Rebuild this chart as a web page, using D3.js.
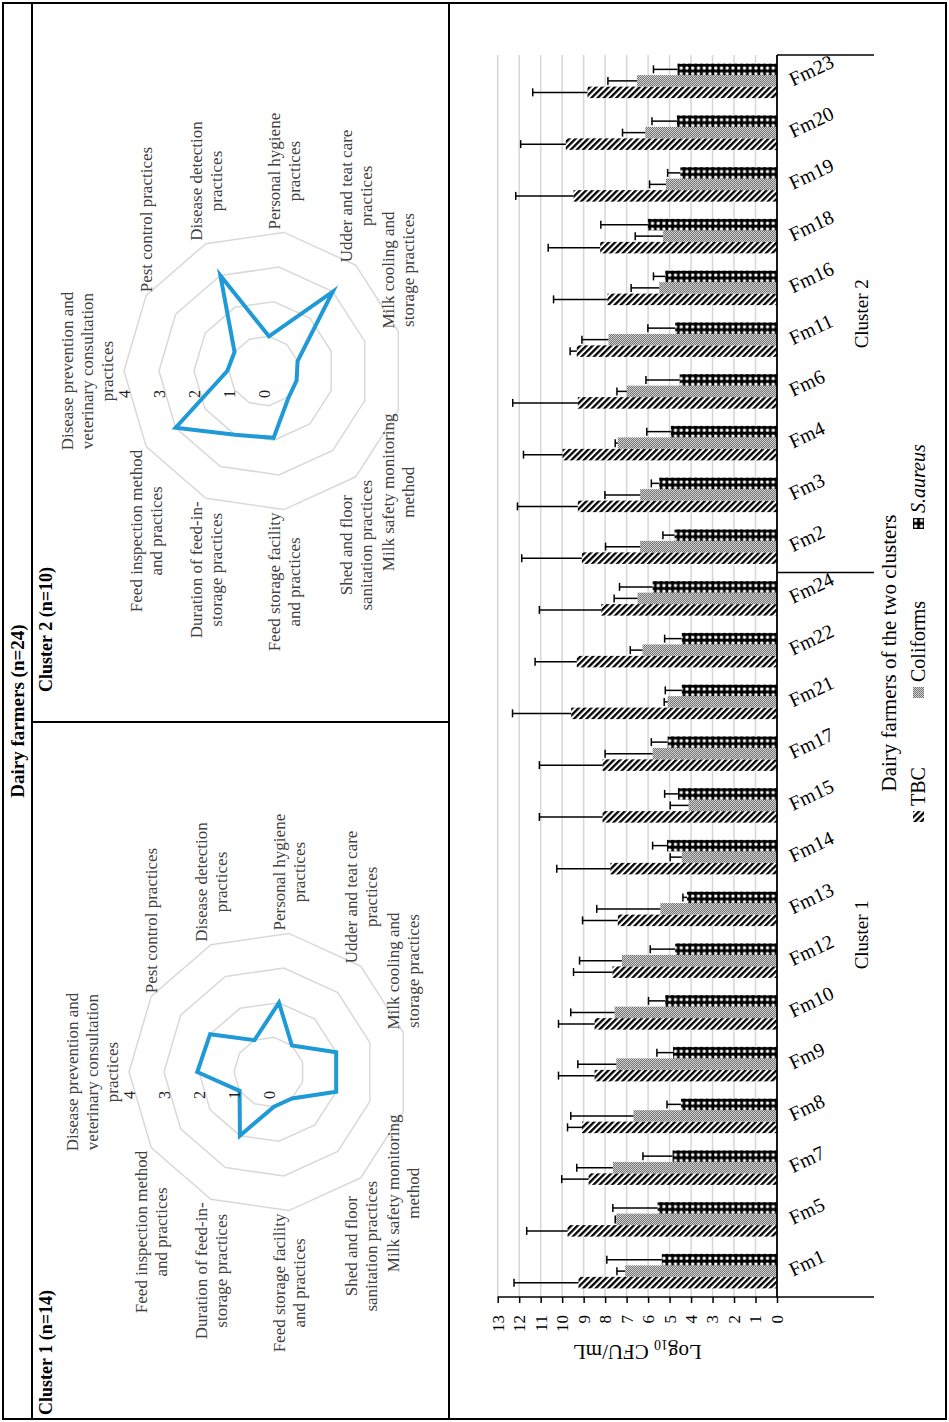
<!DOCTYPE html>
<html>
<head>
<meta charset="utf-8">
<script src="https://cdn.jsdelivr.net/npm/d3@7"></script>
<style>
  html, body { margin: 0; padding: 0; background: #fff; }
  svg { display: block; }
  text { font-family: "Liberation Serif", "Times New Roman", serif; }
</style>
</head>
<body>
<svg id="fig" width="949" height="1422"></svg>
<script>
// ---- Practice scores (radar charts) ----
const practiceLabels = [
  ["Disease prevention and", "veterinary consultation", "practices"],
  ["Pest control practices"],
  ["Disease detection", "practices"],
  ["Personal hygiene", "practices"],
  ["Udder and teat care", "practices"],
  ["Milk cooling and", "storage practices"],
  ["Milk safety monitoring", "method"],
  ["Shed and floor", "sanitation practices"],
  ["Feed storage facility", "and practices"],
  ["Duration of feed-in-", "storage practices"],
  ["Feed inspection method", "and practices"]
];
const cluster1Scores = [2.05, 2.0, 1.0, 2.0, 1.0, 2.0, 2.0, 1.0, 1.0, 2.0, 1.0];
const cluster2Scores = [1.05, 1.0, 3.0, 1.0, 3.0, 1.0, 0.97, 1.05, 1.93, 2.0, 3.0];
const radarTicks = [0, 1, 2, 3, 4];

// ---- Microbial counts (bar chart) ----
const farms = ["Fm1", "Fm5", "Fm7", "Fm8", "Fm9", "Fm10", "Fm12", "Fm13", "Fm14", "Fm15", "Fm17", "Fm21", "Fm22", "Fm24",
               "Fm2", "Fm3", "Fm4", "Fm6", "Fm11", "Fm16", "Fm18", "Fm19", "Fm20", "Fm23"];
const clusterNames = ["Cluster 1", "Cluster 2"];
const clusterSizes = [14, 10];
const seriesNames = ["TBC", "Coliforms", "S.aureus"];
const tbcMean  = [9.24, 9.75, 8.77, 9.08, 8.49, 8.49, 7.66, 7.41, 7.76, 8.12, 8.12, 9.58, 9.32, 8.18,
                  9.08, 9.27, 9.98, 9.27, 9.32, 7.89, 8.23, 9.47, 9.83, 8.82];
const tbcSD    = [3.00, 1.90, 1.25, 0.67, 1.68, 1.68, 1.81, 1.64, 2.49, 2.94, 2.94, 2.73, 1.94, 2.88,
                  2.80, 2.81, 1.82, 3.03, 0.31, 2.51, 2.42, 2.69, 2.10, 2.55];
const coliMean = [7.07, 7.48, 7.64, 6.68, 7.48, 7.56, 7.22, 5.43, 4.43, 4.11, 5.79, 5.09, 6.26, 6.49,
                  6.37, 6.37, 7.41, 6.99, 7.84, 5.48, 5.31, 5.17, 6.13, 6.52];
const coliSD   = [0.38, 0.05, 1.68, 2.92, 1.79, 2.04, 1.97, 2.96, 0.54, 0.86, 2.21, 0.16, 0.57, 1.09,
                  1.61, 1.64, 0.12, 0.46, 1.24, 1.31, 1.29, 0.76, 1.06, 1.35];
const saurMean = [5.36, 5.56, 4.86, 4.47, 4.84, 5.20, 4.74, 4.19, 5.12, 4.61, 5.09, 4.43, 4.43, 5.79,
                  4.77, 5.48, 4.94, 4.53, 4.74, 5.20, 6.01, 4.50, 4.66, 4.63];
const saurSD   = [2.56, 2.08, 1.38, 0.65, 0.75, 0.78, 1.16, 0.19, 0.67, 0.62, 0.76, 0.77, 0.80, 1.54,
                  0.54, 0.37, 1.12, 1.57, 1.27, 0.55, 2.19, 0.59, 1.16, 1.12];
const valueTicks = [0, 1, 2, 3, 4, 5, 6, 7, 8, 9, 10, 11, 12, 13];

// ---- Page set-up: the figure is laid out landscape and turned a quarter turn ----
const W = 1422, H = 949;
const svg = d3.select("#fig");
const defs = svg.append("defs");
const g = svg.append("g").attr("transform", `translate(0,${W}) rotate(-90)`);

// Fill patterns for the three count series
const pTbc = defs.append("pattern").attr("id", "pat-tbc").attr("patternUnits", "userSpaceOnUse")
  .attr("width", 4.4).attr("height", 4.4).attr("patternTransform", "rotate(45)");
pTbc.append("rect").attr("width", 4.4).attr("height", 4.4).attr("fill", "#fff");
pTbc.append("rect").attr("width", 4.4).attr("height", 2.3).attr("fill", "#000");

const pCol = defs.append("pattern").attr("id", "pat-col").attr("patternUnits", "userSpaceOnUse")
  .attr("width", 2).attr("height", 2);
pCol.append("rect").attr("width", 2).attr("height", 2).attr("fill", "#d2d2d2");
pCol.append("rect").attr("width", 1).attr("height", 1).attr("fill", "#6e6e6e");
pCol.append("rect").attr("x", 1).attr("y", 1).attr("width", 1).attr("height", 1).attr("fill", "#7a7a7a");

const pSa = defs.append("pattern").attr("id", "pat-sa").attr("patternUnits", "userSpaceOnUse")
  .attr("width", 5.75).attr("height", 5.75);
pSa.append("rect").attr("width", 5.75).attr("height", 5.75).attr("fill", "#000");
pSa.append("rect").attr("x", 1.2).attr("y", 1.2).attr("width", 3).attr("height", 3).attr("rx", 0.8).attr("fill", "#fff");

const seriesFill = {"TBC": "url(#pat-tbc)", "Coliforms": "url(#pat-col)", "S.aureus": "url(#pat-sa)"};

// ---- Table frame ----
const frame = [
  [3, 3, 1419, 3], [3, 946, 1419, 946], [3, 3, 3, 946], [1419, 3, 1419, 946],
  [3, 32, 1419, 32], [3, 449, 1419, 449], [700, 32, 700, 449]
];
g.append("g").selectAll("line").data(frame).join("line")
  .attr("x1", d => d[0]).attr("y1", d => d[1]).attr("x2", d => d[2]).attr("y2", d => d[3])
  .attr("stroke", "#000").attr("stroke-width", 2).attr("stroke-linecap", "square");

g.append("text").attr("x", 711).attr("y", 24).attr("text-anchor", "middle")
  .attr("font-size", 19).attr("font-weight", "bold").text("Dairy farmers (n=24)");
g.append("text").attr("x", 7).attr("y", 52).attr("font-size", 18).attr("font-weight", "bold")
  .text(`${clusterNames[0]} (n=${clusterSizes[0]})`);
g.append("text").attr("x", 730).attr("y", 52).attr("font-size", 18).attr("font-weight", "bold")
  .text(`${clusterNames[1]} (n=${clusterSizes[1]})`);

// ---- Radar charts ----
function drawRadar(cx, cy, scores) {
  const n = practiceLabels.length;
  const r = d3.scaleLinear().domain([0, 4]).range([0, 140]);
  const ang = d3.scaleLinear().domain([0, n]).range([0, 2 * Math.PI]);
  const pt = (i, v) => [cx + r(v) * Math.sin(ang(i)), cy - r(v) * Math.cos(ang(i))];
  const rg = g.append("g");

  // concentric grid rings
  rg.selectAll("path.ring").data(radarTicks.filter(t => t > 0)).join("path")
    .attr("class", "ring")
    .attr("d", t => d3.line().curve(d3.curveLinearClosed)(d3.range(n).map(i => pt(i, t))))
    .attr("fill", "none").attr("stroke", "#d9d9d9").attr("stroke-width", 1.5);

  // score outline
  rg.append("path")
    .attr("d", d3.line().curve(d3.curveLinearClosed)(scores.map((v, i) => pt(i, v))))
    .attr("fill", "none").attr("stroke", "#1f9ad6").attr("stroke-width", 4)
    .attr("stroke-linejoin", "miter").attr("stroke-miterlimit", 6);

  // scale labels along the first spoke
  rg.selectAll("text.tick").data(radarTicks).join("text")
    .attr("class", "tick")
    .attr("x", cx - 19).attr("y", t => cy - r(t)).attr("dy", "0.35em")
    .attr("text-anchor", "end").attr("font-size", 16).attr("fill", "#222")
    .text(t => t);

  // practice names around the rim
  const lh = 20;
  practiceLabels.forEach((lines, i) => {
    const [vx, vy] = pt(i, 4);
    const s = Math.sin(ang(i));
    const tg = rg.append("g");
    const texts = lines.map(l => tg.append("text").attr("font-size", 17).attr("fill", "#404040")
      .attr("text-anchor", "middle").text(l));
    const maxW = d3.max(texts, t => t.node().getComputedTextLength());
    let bx, baseY;
    if (Math.abs(s) < 1e-6) {
      bx = vx;
      baseY = k => vy - 11 - (lines.length - 1 - k) * lh;
    } else {
      bx = vx + Math.sign(s) * (3 + maxW / 2);
      baseY = k => vy - (lines.length - 1) * lh / 2 + k * lh + 6;
    }
    texts.forEach((t, k) => t.attr("x", bx).attr("y", baseY(k)));
  });
}
drawRadar(350, 269, cluster1Scores);
drawRadar(1051, 264, cluster2Scores);

// ---- Bar chart of log counts ----
const x0 = d3.scaleBand().domain(farms).range([125, 1367]).paddingInner(0).paddingOuter(0);
const x1 = d3.scaleBand().domain(seriesNames).range([0, x0.bandwidth()]).paddingInner(0).paddingOuter(0.75);
const y = d3.scaleLinear().domain([0, 13]).range([777, 497.7]);
const yBase = y(0), labelBottom = 874;

const means = {"TBC": tbcMean, "Coliforms": coliMean, "S.aureus": saurMean};
const sds = {"TBC": tbcSD, "Coliforms": coliSD, "S.aureus": saurSD};
const rows = farms.flatMap((f, i) => seriesNames.map(s => ({farm: f, series: s, mean: means[s][i], sd: sds[s][i]})));

const bc = g.append("g");

// gridlines
bc.append("g").selectAll("line").data(valueTicks.filter(v => v > 0)).join("line")
  .attr("x1", x0.range()[0]).attr("x2", x0.range()[1])
  .attr("y1", d => y(d)).attr("y2", d => y(d))
  .attr("stroke", "#d6d6d6").attr("stroke-width", 1.5);

// bars
bc.append("g").selectAll("rect").data(rows).join("rect")
  .attr("x", d => x0(d.farm) + x1(d.series))
  .attr("width", x1.bandwidth())
  .attr("y", d => y(d.mean))
  .attr("height", d => yBase - y(d.mean))
  .attr("fill", d => seriesFill[d.series]);

// error bars (upper only, capped)
const eb = bc.append("g").attr("stroke", "#000").attr("stroke-width", 1.5);
eb.selectAll("line.stem").data(rows).join("line").attr("class", "stem")
  .attr("x1", d => x0(d.farm) + x1(d.series) + x1.bandwidth() / 2)
  .attr("x2", d => x0(d.farm) + x1(d.series) + x1.bandwidth() / 2)
  .attr("y1", d => y(d.mean)).attr("y2", d => y(d.mean + d.sd));
eb.selectAll("line.cap").data(rows).join("line").attr("class", "cap")
  .attr("x1", d => x0(d.farm) + x1(d.series) + x1.bandwidth() / 2 - 4)
  .attr("x2", d => x0(d.farm) + x1(d.series) + x1.bandwidth() / 2 + 4)
  .attr("y1", d => y(d.mean + d.sd)).attr("y2", d => y(d.mean + d.sd));

// value axis
const yAxis = d3.axisLeft(y).tickValues(valueTicks).tickSize(6).tickSizeOuter(0).tickPadding(12).tickFormat(d3.format("d"));
const ya = bc.append("g").attr("transform", `translate(${x0.range()[0]},0)`).call(yAxis);
ya.select(".domain").remove();
ya.selectAll(".tick line").attr("stroke", "#000").attr("stroke-width", 1.5);
ya.selectAll(".tick text").attr("font-family", "Liberation Serif, Times New Roman, serif")
  .attr("font-size", 17).attr("fill", "#000");

// axis lines, including the group dividers of the two-level category axis
const clusterStarts = [0, clusterSizes[0]].map(i => x0(farms[i]));
const dividers = [...clusterStarts, x0.range()[1]];
bc.append("line").attr("x1", x0.range()[0]).attr("x2", x0.range()[0])
  .attr("y1", y(13)).attr("y2", labelBottom).attr("stroke", "#000").attr("stroke-width", 1.5);
bc.append("g").selectAll("line").data(dividers.slice(1)).join("line")
  .attr("x1", d => d).attr("x2", d => d).attr("y1", yBase).attr("y2", labelBottom)
  .attr("stroke", "#000").attr("stroke-width", 1.5);
bc.append("line").attr("x1", x0.range()[0]).attr("x2", x0.range()[1])
  .attr("y1", yBase).attr("y2", yBase).attr("stroke", "#000").attr("stroke-width", 1.8);

// farm labels
bc.append("g").selectAll("text").data(farms).join("text")
  .attr("transform", d => `translate(${x0(d) + x0.bandwidth() / 2 - 5.5},793) rotate(65)`)
  .attr("font-size", 20).attr("fill", "#000").text(d => d);

// cluster labels
bc.append("g").selectAll("text").data(clusterNames).join("text")
  .attr("x", (d, i) => (dividers[i] + dividers[i + 1]) / 2).attr("y", 868)
  .attr("text-anchor", "middle").attr("font-size", 19).text(d => d);

// axis titles
const yt = bc.append("text").attr("transform", `translate(77,${(y(0) + y(13)) / 2}) rotate(-90)`)
  .attr("text-anchor", "middle").attr("font-size", 21);
yt.append("tspan").text("Log");
yt.append("tspan").attr("font-size", 14).attr("dy", 5).text("10");
yt.append("tspan").attr("dy", -5).text(" CFU/mL");

bc.append("text").attr("x", 769).attr("y", 896).attr("text-anchor", "middle")
  .attr("font-size", 21).text("Dairy farmers of the two clusters");

// legend
const legendX = [600, 724, 893];
const lg = bc.append("g").selectAll("g").data(seriesNames).join("g")
  .attr("transform", (d, i) => `translate(${legendX[i]},913)`);
lg.append("rect").attr("width", 11).attr("height", 11).attr("fill", d => seriesFill[d]);
lg.append("text").attr("x", 16).attr("y", 11.5).attr("font-size", 20)
  .attr("font-style", d => d === "S.aureus" ? "italic" : null).text(d => d);
</script>
</body>
</html>
